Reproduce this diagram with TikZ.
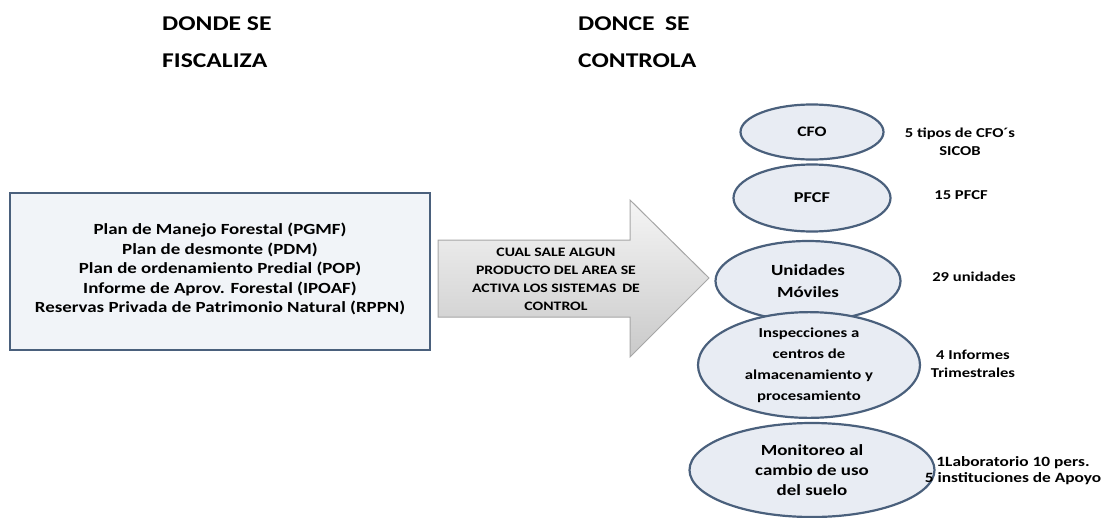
\documentclass[tikz,border=0pt]{standalone}
\usepackage{fontspec}
\setmainfont{Carlito}[FakeStretch=1.22]
\usetikzlibrary{shapes.geometric}
\definecolor{edgeblue}{HTML}{4A607C}
\definecolor{fillblue}{HTML}{E8ECF3}
\definecolor{boxfill}{HTML}{F1F4F8}
\tikzset{
  title/.style={font=\bfseries\fontsize{21}{37}\selectfont, align=left, inner sep=0pt, anchor=west},
  oval/.style={ellipse, draw=edgeblue, line width=2.2pt, fill=fillblue, inner sep=0pt, align=center, font=\bfseries\fontsize{15}{21}\selectfont},
  note/.style={align=center, inner sep=0pt, font=\bfseries\fontsize{13.6}{17.5}\selectfont},
}
\begin{document}
\begin{tikzpicture}[x=1pt,y=-1pt]
\useasboundingbox (0,0) rectangle (1113,517);
% titles
\node[title] (t1) at (162,42) {DONDE SE\\FISCALIZA};
\node[title] (t2) at (578,42) {DONCE\enspace SE\\CONTROLA};
% left box
\node[draw=edgeblue, line width=1.6pt, fill=boxfill, minimum width=420pt, minimum height=157pt, inner sep=0pt] (box) at (220,271.5) {};
\node[align=center, inner sep=0pt, font=\bfseries\fontsize{15.5}{19.5}\selectfont] (boxtext) at (220,269)
  {Plan de Manejo Forestal (PGMF)\\Plan de desmonte (PDM)\\Plan de ordenamiento Predial (POP)\\Informe de Aprov. Forestal (IPOAF)\\Reservas Privada de Patrimonio Natural (RPPN)};
% arrow
\coordinate (a1) at (438,240);
\coordinate (a2) at (630,240);
\coordinate (a3) at (630,200);
\coordinate (a4) at (709,278);
\coordinate (a5) at (630,357);
\coordinate (a6) at (630,317);
\coordinate (a7) at (438,317);
\shade[top color=gray!8, bottom color=gray!42, draw=gray!70, line width=1pt]
  (a1) -- (a2) -- (a3) -- (a4) -- (a5) -- (a6) -- (a7) -- cycle;
\node[align=center, inner sep=0pt, font=\bfseries\fontsize{12.9}{18}\selectfont] (at) at (556,279)
  {CUAL SALE ALGUN\\PRODUCTO DEL AREA SE\\ACTIVA LOS SISTEMAS\, DE\\CONTROL};
% ellipses
\node[oval, minimum width=143pt, minimum height=55pt, font=\bfseries\fontsize{14.5}{17}\selectfont] (e1) at (812,132) {CFO};
\node[oval, minimum width=157pt, minimum height=67pt] (e2) at (812,198) {PFCF};
\node[oval, minimum width=185pt, minimum height=80pt, font=\bfseries\fontsize{15.5}{22}\selectfont] (e3) at (808,281) {Unidades\\Móviles};
\node[oval, minimum width=222pt, minimum height=88pt, font=\bfseries\fontsize{13.7}{21}\selectfont] (e4) at (809,365) {Inspecciones a\\centros de\\almacenamiento y\\procesamiento};
\node[oval, minimum width=245pt, minimum height=94pt, font=\bfseries\fontsize{15.5}{20}\selectfont] (e5) at (812,470) {Monitoreo al\\cambio de uso\\del suelo};
% notes
\node[note] (n1) at (960,142) {5 tipos de CFO´s\\SICOB};
\node[note] (n2) at (961,195) {15 PFCF};
\node[note] (n3) at (974,277) {29 unidades};
\node[note] (n4) at (973,364) {4 Informes\\Trimestrales};
\node[note, font=\bfseries\fontsize{14.2}{16}\selectfont] (n5) at (1013,471) {1Laboratorio 10 pers.\\5 instituciones de Apoyo};
\end{tikzpicture}
\end{document}
